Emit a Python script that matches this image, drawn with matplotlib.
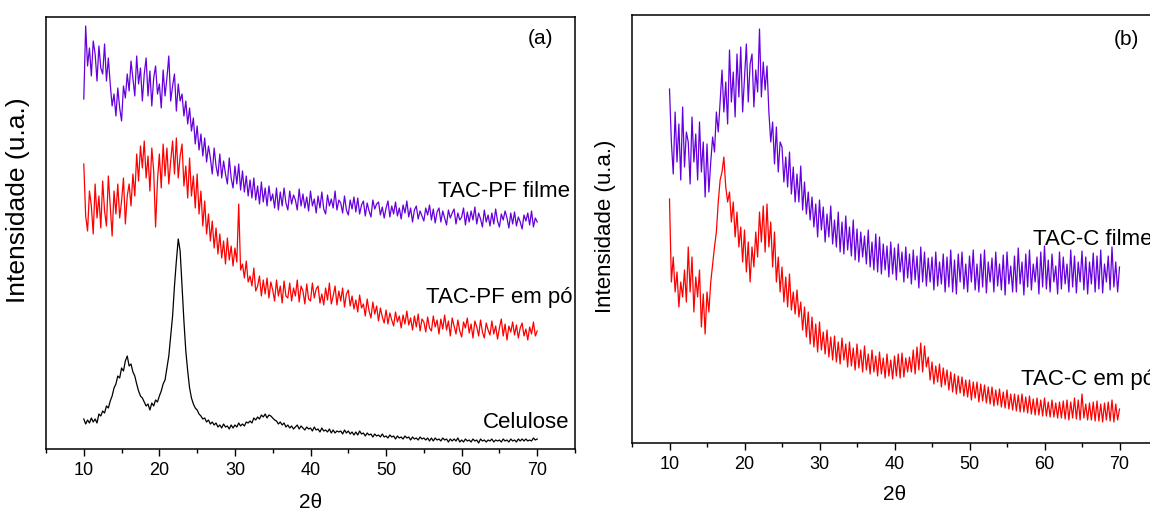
import numpy as np
import matplotlib.pyplot as plt
from matplotlib.ticker import MultipleLocator

plt.rcParams['font.family'] = ['Liberation Sans', 'DejaVu Sans']

# 2theta grid shared by every pattern (0.25 degree steps, 10 -> 70)
two_theta = np.arange(10, 70.01, 0.25)

# ---- panel (a) : intensities (a.u.), one row per degree ----
tacpf_filme = [
    347, 420, 380, 398,  370, 405, 392, 365,  400, 378, 372, 402,  365, 388, 362, 340,
    352, 330, 358, 338,  325, 360, 348, 372,  355, 385, 368, 350,  390, 362, 378, 345,
    372, 388, 350, 375,  340, 368, 380, 352,  362, 338, 376, 350,  368, 390, 345, 360,
    372, 335, 362, 345,  352, 330, 345, 322,  338, 315, 328, 302,  320, 296, 312, 290,
    308, 284, 300, 288,  272, 298, 280, 270,  292, 268, 285, 272,  262, 288, 268, 258,
    280, 262, 282, 256,  275, 254, 270, 250,  266, 248, 268, 246,  260, 242, 264, 244,
    258, 240, 260, 245,  252, 238, 258, 236,  254, 240, 258, 243,  236, 255, 242, 251,
    246, 236, 257, 240,  252, 238, 249, 235,  255, 240, 247, 233,  250, 238, 254, 237,
    232, 251, 240, 247,  238, 255, 236, 246,  243, 233, 250, 236,  231, 246, 237, 249,
    234, 248, 232, 241,  245, 230, 243, 235,  229, 246, 237, 242,  244, 231, 239, 228,
    238, 245, 229, 240,  232, 244, 230, 238,  227, 241, 233, 245,  229, 238, 224, 236,
    240, 227, 235, 230,  225, 238, 231, 241,  226, 237, 223, 234,  238, 224, 235, 228,
    221, 236, 228, 233,  237, 222, 233, 226,  229, 238, 221, 234,  224, 235, 226, 239,
    222, 233, 227, 219,  236, 224, 231, 220,  233, 222, 237, 225,  219, 232, 226, 235,
    228, 218, 233, 222,  234, 220, 229, 224,  217, 231, 225, 233,  221, 235, 219, 228,
    224]

tacpf_po = [
    282, 230, 215, 255,  240, 212, 262, 228,  250, 218, 265, 235,  220, 270, 240, 210,
    255, 232, 262, 228,  245, 268, 222, 250,  262, 240, 272, 250,  292, 265, 300, 278,
    305, 268, 290, 255,  298, 275, 219, 265,  292, 258, 302, 270,  298, 262, 285, 305,
    272, 308, 268, 290,  302, 260, 280, 248,  288, 250, 270, 238,  272, 232, 255, 220,
    245, 212, 232, 205,  225, 198, 218, 192,  212, 188, 205, 182,  208, 186, 200, 180,
    198, 184, 242, 176,  182, 168, 185, 164,  170, 160, 178, 155,  160, 170, 150, 166,
    152, 168, 148, 164,  156, 145, 166, 150,  160, 143, 165, 150,  148, 163, 145, 158,
    150, 166, 144, 160,  155, 142, 162, 147,  145, 163, 148, 157,  160, 143, 152, 141,
    158, 146, 163, 142,  150, 160, 141, 155,  145, 158, 139, 152,  156, 140, 150, 137,
    146, 134, 151, 138,  142, 130, 147, 135,  128, 144, 132, 140,  125, 138, 129, 123,
    136, 122, 133, 126,  120, 134, 124, 130,  118, 131, 122, 135,  121, 128, 116, 130,
    119, 132, 115, 127,  124, 114, 129, 118,  115, 130, 119, 126,  112, 127, 117, 131,
    116, 125, 110, 128,  120, 112, 126, 115,  109, 124, 118, 128,  113, 122, 108, 125,
    119, 110, 126, 114,  108, 123, 116, 111,  125, 112, 120, 107,  118, 127, 110, 122,
    106, 120, 114, 124,  111, 121, 108, 118,  123, 110, 117, 106,  119, 112, 124, 110,
    115]

celulose = [
    27, 22, 26, 23,  28, 24, 27, 23,  32, 30, 35, 33,  40, 38, 45, 50,
    58, 62, 70, 68,  78, 75, 85, 90,  80, 82, 74, 70,  62, 55, 50, 48,
    44, 40, 42, 36,  43, 40, 46, 44,  50, 55, 62, 66,  78, 90, 110, 130,
    160, 185, 207, 195,  160, 125, 95, 75,  58, 48, 42, 38,  36, 32, 30, 27,
    28, 24, 26, 22,  24, 21, 23, 19,  21, 18, 22, 19,  20, 17, 21, 18,
    21, 19, 23, 20,  22, 20, 24, 23,  25, 23, 28, 26,  29, 27, 31, 29,
    32, 28, 31, 30,  28, 26, 25, 22,  24, 21, 23, 19,  21, 18, 20, 17,
    19, 21, 17, 20,  18, 16, 19, 17,  18, 15, 19, 16,  17, 14, 18, 15,
    16, 14, 17, 13,  16, 13, 15, 14,  15, 12, 16, 13,  15, 12, 14, 11,
    14, 11, 15, 12,  13, 10, 13, 11,  12, 9, 12, 10,  11, 9, 12, 9,
    10, 8, 11, 9,  10, 7, 10, 8,  9, 7, 10, 8,  9, 6, 9, 7,
    8, 6, 9, 7,  8, 6, 8, 5,  8, 5, 8, 6,  7, 5, 8, 6,
    7, 4, 7, 5,  7, 5, 8, 4,  6, 4, 7, 5,  6, 4, 7, 5,
    6, 3, 7, 5,  6, 4, 6, 5,  7, 4, 6, 5,  6, 4, 7, 5,
    6, 4, 7, 5,  6, 4, 7, 5,  7, 5, 7, 5,  6, 5, 8, 6,
    7]

# ---- panel (b) ----
tacc_filme = [
    353, 300, 268, 330,  280, 318, 262, 335,  275, 310, 300, 258,  325, 280, 308, 262,
    320, 270, 300, 245,  298, 250, 280, 305,  290, 330, 310, 340,  372, 330, 360, 318,
    392, 340, 370, 325,  388, 345, 395, 330,  365, 398, 340, 378,  388, 335, 372, 350,
    413, 345, 380, 352,  376, 330, 300, 320,  278, 315, 270, 300,  295, 260, 285, 255,
    290, 248, 275, 240,  268, 240, 276, 232,  260, 228, 250, 222,  245, 215, 238, 205,
    242, 212, 235, 200,  228, 205, 236, 198,  222, 195, 230, 190,  220, 188, 226, 192,
    215, 186, 222, 182,  213, 180, 210, 185,  206, 178, 212, 175,  200, 172, 208, 170,
    205, 168, 198, 172,  196, 165, 200, 168,  194, 162, 198, 170,  190, 160, 195, 164,
    188, 158, 192, 162,  186, 154, 195, 160,  190, 156, 184, 160,  185, 152, 190, 156,
    180, 158, 188, 150,  185, 155, 192, 150,  182, 148, 188, 160,  190, 153, 178, 150,
    186, 160, 192, 152,  178, 150, 188, 155,  192, 149, 180, 160,  184, 150, 190, 156,
    178, 152, 187, 147,  190, 158, 176, 150,  186, 150, 194, 158,  180, 147, 188, 155,
    192, 152, 178, 160,  185, 148, 190, 155,  196, 153, 182, 150,  188, 160, 176, 148,
    190, 153, 185, 158,  178, 150, 192, 155,  186, 149, 180, 160,  191, 152, 185, 148,
    180, 158, 189, 150,  186, 153, 192, 149,  178, 160, 186, 152,  195, 155, 180, 150,
    175]

tacc_po = [
    243, 160, 185, 150,  170, 135, 160, 145,  172, 140, 195, 150,  185, 130, 165, 145,
    172, 115, 148, 108,  150, 130, 160, 178,  195, 210, 240, 262,  270, 285, 255, 240,
    250, 220, 240, 205,  230, 195, 215, 180,  212, 170, 200, 160,  195, 175, 210, 185,
    230, 200, 236, 190,  238, 195, 220, 175,  210, 160, 185, 150,  175, 140, 165, 135,
    168, 132, 150, 128,  152, 125, 140, 112,  135, 105, 130, 98,  125, 95, 118, 90,
    120, 92, 110, 88,  112, 85, 105, 82,  106, 80, 100, 78,  104, 82, 98, 75,
    100, 76, 94, 72,  98, 74, 92, 70,  96, 72, 88, 68,  92, 70, 86, 66,
    90, 68, 84, 64,  88, 66, 82, 63,  86, 66, 88, 64,  89, 65, 84, 70,
    85, 70, 92, 68,  95, 72, 99, 70,  96, 75, 85, 62,  80, 58, 76, 60,
    78, 55, 74, 57,  72, 52, 70, 50,  68, 48, 66, 49,  65, 46, 62, 45,
    62, 42, 60, 44,  60, 40, 58, 41,  57, 39, 55, 38,  55, 36, 52, 37,
    53, 35, 50, 34,  52, 33, 48, 32,  48, 31, 47, 30,  48, 30, 45, 29,
    46, 28, 43, 27,  44, 27, 42, 26,  44, 26, 40, 25,  42, 25, 39, 24,
    40, 24, 41, 23,  42, 22, 40, 24,  44, 23, 42, 22,  48, 24, 38, 22,
    39, 22, 40, 21,  41, 21, 38, 20,  39, 22, 40, 21,  42, 20, 38, 22,
    33]

purple = '#6600dd'
red = '#ff0000'

fig = plt.figure(figsize=(11.5, 5.1), dpi=100)
W, H = 1150, 510

def box(x0, x1, ytop, ybot):
    return [x0 / W, 1 - ybot / H, (x1 - x0) / W, (ybot - ytop) / H]

ax1 = fig.add_axes(box(46, 575, 17.5, 450))
ax2 = fig.add_axes(box(632, 1157, 16, 444))

for ax in (ax1, ax2):
    ax.set_xlim(5, 75)
    ax.xaxis.set_major_locator(MultipleLocator(10))
    ax.xaxis.set_minor_locator(MultipleLocator(5))
    ax.tick_params(axis='x', which='major', direction='out', length=5, width=1,
                   labelsize=13, pad=4, top=False)
    ax.tick_params(axis='x', which='minor', direction='out', length=3, width=1, top=False)
    ax.set_yticks([])
    for s in ax.spines.values():
        s.set_linewidth(1.1)

ax1.plot(two_theta, tacpf_filme, color=purple, lw=0.9)
ax1.plot(two_theta, tacpf_po, color=red, lw=0.9)
ax1.plot(two_theta, celulose, color='black', lw=0.9)
ax1.set_ylim(-3, 429.5)

ax2.plot(two_theta, tacc_filme, color=purple, lw=0.9)
ax2.plot(two_theta, tacc_po, color=red, lw=0.9)
ax2.set_ylim(-1, 427)

ax1.set_xlabel('2θ', fontsize=15, labelpad=10)
ax2.set_xlabel('2θ', fontsize=15, labelpad=8)

fig.text(18 / W, 1 - 200 / H, 'Intensidade (u.a.)', rotation=90,
         ha='center', va='center', fontsize=19)
fig.text(606 / W, 1 - 226 / H, 'Intensidade (u.a.)', rotation=90,
         ha='center', va='center', fontsize=16)

# curve labels
fig.text(570 / W, 1 - 197 / H, 'TAC-PF filme', ha='right', va='baseline', fontsize=16)
fig.text(572 / W, 1 - 303 / H, 'TAC-PF em pó', ha='right', va='baseline', fontsize=16)
fig.text(569 / W, 1 - 428 / H, 'Celulose', ha='right', va='baseline', fontsize=16)
fig.text(1033 / W, 1 - 245 / H, 'TAC-C filme', ha='left', va='baseline', fontsize=16)
fig.text(1021 / W, 1 - 385 / H, 'TAC-C em pó', ha='left', va='baseline', fontsize=16)

fig.text(553 / W, 1 - 38 / H, '(a)', ha='right', va='center', fontsize=15)
fig.text(1139 / W, 1 - 40 / H, '(b)', ha='right', va='center', fontsize=15)

plt.savefig('out.png', dpi=100)
